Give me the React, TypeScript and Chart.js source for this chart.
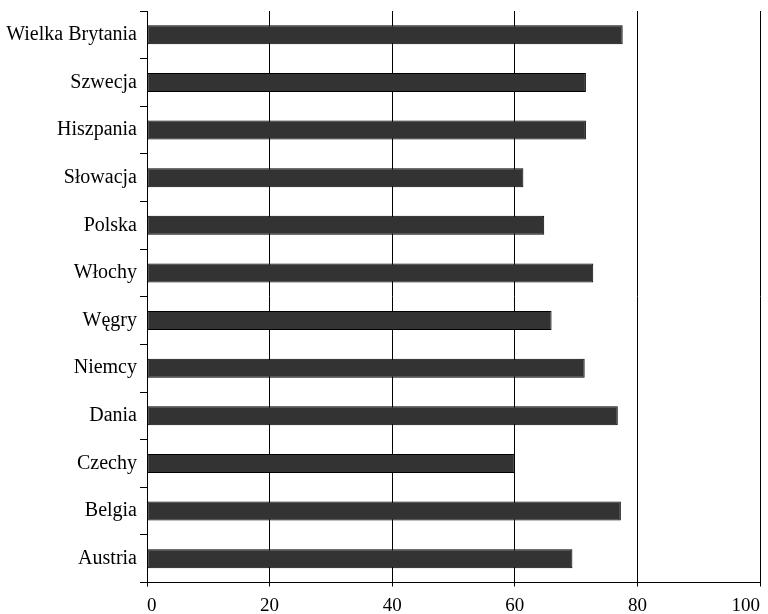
import React, { useEffect, useRef } from "react";
import { Chart, registerables } from "chart.js";

Chart.register(...registerables);

const categories = [
  "Wielka Brytania",
  "Szwecja",
  "Hiszpania",
  "Słowacja",
  "Polska",
  "Włochy",
  "Węgry",
  "Niemcy",
  "Dania",
  "Czechy",
  "Belgia",
  "Austria",
];

const values = [77.6, 71.6, 71.6, 61.4, 64.8, 72.8, 66.0, 71.4, 76.8, 60.0, 77.3, 69.4];

const xMin = 0;
const xMax = 100;
const xStep = 20;

const FONT = "'Liberation Serif', 'Times New Roman', serif";

export default function App() {
  const ref = useRef<HTMLCanvasElement | null>(null);

  useEffect(() => {
    if (!ref.current) return;
    const chart = new Chart(ref.current, {
      type: "bar",
      data: {
        labels: categories,
        datasets: [
          {
            data: values,
            backgroundColor: "#333333",
            borderColor: "#000000",
            borderWidth: 1,
            borderSkipped: false,
            barPercentage: 0.4,
            categoryPercentage: 1,
          },
        ],
      },
      options: {
        indexAxis: "y",
        responsive: false,
        animation: false,
        layout: { padding: { top: 11, right: 8, left: 0, bottom: 0 } },
        plugins: { legend: { display: false }, tooltip: { enabled: false } },
        scales: {
          x: {
            min: xMin,
            max: xMax,
            afterFit: (scale: any) => {
              scale.height = 31.5;
              scale.paddingLeft = 0;
              scale.paddingRight = 0;
            },
            ticks: {
              stepSize: xStep,
              align: "inner",
              color: "#000",
              padding: 8,
              font: { family: FONT, size: 19 },
            },
            grid: {
              color: "#000",
              lineWidth: 1,
              drawTicks: true,
              tickLength: 4,
              tickColor: "#000",
            },
            border: { color: "#000", width: 1 },
          },
          y: {
            afterFit: (scale: any) => {
              scale.width = 147;
              scale.paddingTop = 0;
              scale.paddingBottom = 0;
            },
            ticks: {
              color: "#000",
              padding: 3,
              font: { family: FONT, size: 20 },
            },
            grid: {
              drawOnChartArea: false,
              drawTicks: true,
              tickLength: 7,
              tickColor: "#000",
              offset: true,
            },
            border: { color: "#000", width: 1 },
          },
        },
      },
    });
    return () => chart.destroy();
  }, []);

  return (
    <div style={{ position: "absolute", left: 0, top: 0, width: 768, height: 614, background: "#fff" }}>
      <canvas ref={ref} width={768} height={614} style={{ display: "block" }} />
    </div>
  );
}
